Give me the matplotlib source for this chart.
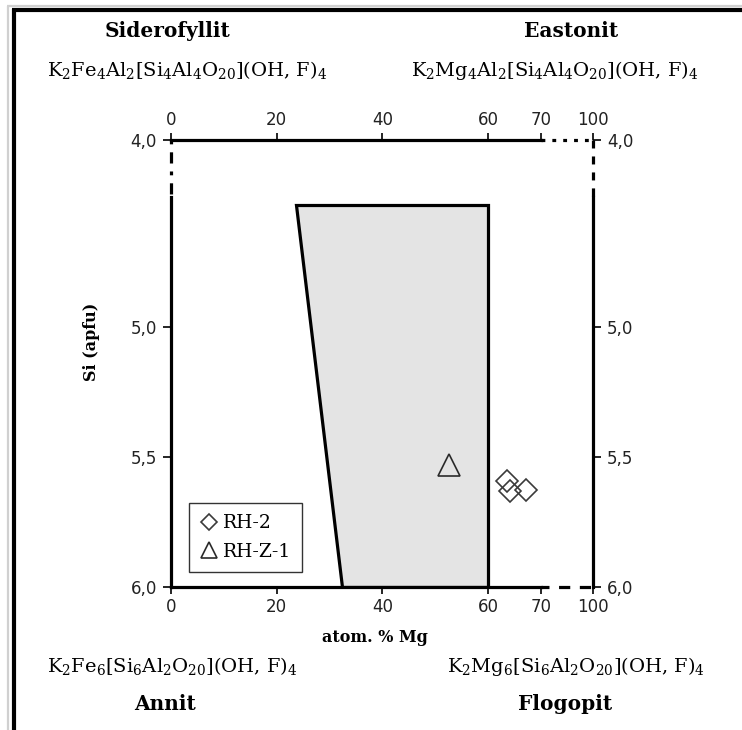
import numpy as np
import matplotlib
matplotlib.use("Agg")
import matplotlib.pyplot as plt
from matplotlib.lines import Line2D

# ---------------- data ----------------
x_ticks = [0, 20, 40, 60, 70, 100]
x_tick_labels = ["0", "20", "40", "60", "70", "100"]
y_ticks = [4.0, 5.0, 5.5, 6.0]
y_tick_labels = ["4,0", "5,0", "5,5", "6,0"]

# broken-axis scale: value -> relative length
x_scale_vals = [0, 70, 100]
x_scale_len = [0, 370, 422]
y_scale_vals = [4.0, 4.5, 6.0]
y_scale_len = [0, 57, 447]

# biotite field (atom % Mg, Si apfu)
field_mg = [23.6, 60.0, 60.0, 32.3]
field_si = [4.53, 4.53, 6.0, 6.0]

rh2_mg = [63.6, 64.1, 67.2]
rh2_si = [5.593, 5.632, 5.628]
rhz1_mg = [52.6]
rhz1_si = [5.53]

series_labels = ["RH-2", "RH-Z-1"]

# ---------------- helpers ----------------
def piecewise(vals, pos):
    vals = np.asarray(vals, float)
    pos = np.asarray(pos, float)
    def f(v):
        v = np.asarray(v, float)
        out = np.interp(v, vals, pos)
        lo_s = (pos[1] - pos[0]) / (vals[1] - vals[0])
        hi_s = (pos[-1] - pos[-2]) / (vals[-1] - vals[-2])
        out = np.where(v < vals[0], pos[0] + (v - vals[0]) * lo_s, out)
        out = np.where(v > vals[-1], pos[-1] + (v - vals[-1]) * hi_s, out)
        return out
    return f

W, H = 742, 730
fig = plt.figure(figsize=(W / 100, H / 100), dpi=100)
fig.patch.set_facecolor("white")

def fx(px):
    return px / W

def fy(py):
    return 1 - py / H

ax = fig.add_axes([fx(171), fy(587), fx(593) - fx(171), fy(140) - fy(587)])
ax.set_xscale("function", functions=(piecewise(x_scale_vals, x_scale_len),
                                     piecewise(x_scale_len, x_scale_vals)))
ax.set_yscale("function", functions=(piecewise(y_scale_vals, y_scale_len),
                                     piecewise(y_scale_len, y_scale_vals)))
ax.set_xlim(x_scale_vals[0], x_scale_vals[-1])
ax.set_ylim(y_scale_vals[-1], y_scale_vals[0])
ax.set_facecolor("none")

LW = 2.3
# field polygon
ax.fill(field_mg, field_si, facecolor="#e4e4e4", edgecolor="black",
        linewidth=LW, joinstyle="miter", zorder=2)

# data
ax.plot(rh2_mg, rh2_si, linestyle="none", marker="D", markersize=11,
        markerfacecolor="none", markeredgecolor="#3a3a3a", markeredgewidth=1.2,
        label=series_labels[0], zorder=4)
ax.plot(rhz1_mg, rhz1_si, linestyle="none", marker="^", markersize=16,
        markerfacecolor="none", markeredgecolor="#2a2a2a", markeredgewidth=1.2,
        label=series_labels[1], zorder=4)

# spines with breaks
xb = x_scale_vals[1]
yb = y_scale_vals[1]
for s in ax.spines.values():
    s.set_linewidth(LW)
ax.spines["top"].set_bounds(x_scale_vals[0], xb)
ax.spines["bottom"].set_bounds(x_scale_vals[0], xb)
ax.spines["left"].set_bounds(yb, y_scale_vals[-1])
ax.spines["right"].set_bounds(yb, y_scale_vals[-1])

ytop, ybot = y_scale_vals[0], y_scale_vals[-1]
xl, xr = x_scale_vals[0], x_scale_vals[-1]
ax.plot([xb, xr], [ytop, ytop], color="black", lw=LW, ls=(0, (1.2, 2.2)), clip_on=False)
ax.plot([xb, xr], [ybot, ybot], color="black", lw=LW, ls=(1, (3.5, 3.0)), clip_on=False)
ax.plot([xl, xl], [ytop, yb], color="black", lw=LW, ls=(0, (1.2, 2.5, 3.5, 2.5)), clip_on=False)
ax.plot([xr, xr], [ytop, yb], color="black", lw=LW, ls=(0, (2.5, 2.5)), clip_on=False)

# ticks
tick_font = dict(family="DejaVu Sans", size=12)
ax.set_xticks(x_ticks)
ax.set_xticklabels(x_tick_labels, fontdict=tick_font)
ax.set_yticks(y_ticks)
ax.set_yticklabels(y_tick_labels, fontdict=tick_font)
ax.minorticks_off()
ax.tick_params(axis="x", top=True, bottom=True, labeltop=True, labelbottom=True,
               direction="out", length=5, width=1.2, pad=3, colors="black")
ax.tick_params(axis="y", left=True, right=True, labelleft=True, labelright=True,
               direction="out", length=6, width=1.2, pad=4, colors="black")
for lab in ax.get_xticklabels() + ax.get_yticklabels():
    lab.set_color("#222222")

# legend
leg = ax.legend(loc="upper left", bbox_to_anchor=(fx(189), fy(503)),
                bbox_transform=fig.transFigure, borderaxespad=0,
                prop=dict(family="DejaVu Serif", size=13.5), markerscale=0.7,
                frameon=True, fancybox=False, edgecolor="black",
                handlelength=0.9, handletextpad=0.3, borderpad=0.6,
                labelspacing=0.55)
leg.get_frame().set_linewidth(1.0)

# texts
serif = "DejaVu Serif"
plt.rcParams["mathtext.fontset"] = "dejavuserif"
fig.text(fx(91), fy(342), "Si (apfu)", rotation=90, ha="center", va="center",
         family=serif, weight="bold", size=11.5)
fig.text(fx(375), fy(637), "atom. % Mg", ha="center", va="center",
         family=serif, weight="bold", size=11.5)

tsz = 14.5
fig.text(fx(167), fy(31), "Siderofyllit", ha="center", va="center",
         family=serif, weight="bold", size=tsz)
fig.text(fx(571), fy(31), "Eastonit", ha="center", va="center",
         family=serif, weight="bold", size=tsz)
fig.text(fx(165), fy(704), "Annit", ha="center", va="center",
         family=serif, weight="bold", size=tsz)
fig.text(fx(565), fy(704), "Flogopit", ha="center", va="center",
         family=serif, weight="bold", size=tsz)

f_sid = r"K$_2$Fe$_4$Al$_2$[Si$_4$Al$_4$O$_{20}$](OH, F)$_4$"
f_eas = r"K$_2$Mg$_4$Al$_2$[Si$_4$Al$_4$O$_{20}$](OH, F)$_4$"
f_ann = r"K$_2$Fe$_6$[Si$_6$Al$_2$O$_{20}$](OH, F)$_4$"
f_flo = r"K$_2$Mg$_6$[Si$_6$Al$_2$O$_{20}$](OH, F)$_4$"
fsz = 14
fig.text(fx(47), fy(70), f_sid, ha="left", va="center", family=serif, size=fsz)
fig.text(fx(411), fy(70), f_eas, ha="left", va="center", family=serif, size=fsz)
fig.text(fx(47), fy(666), f_ann, ha="left", va="center", family=serif, size=fsz)
fig.text(fx(447), fy(666), f_flo, ha="left", va="center", family=serif, size=fsz)

# window frame (top and left border)
def fline(x0, y0, x1, y1, color, lw):
    fig.add_artist(Line2D([fx(x0), fx(x1)], [fy(y0), fy(y1)], color=color,
                          lw=lw, transform=fig.transFigure, solid_capstyle="butt"))

fline(7, 6, W, 6, "#d0d0d0", 1.6)
fline(8, 6, 8, H, "#d0d0d0", 1.6)
fline(12, 10, W, 10, "black", 3.0)
fline(14, 8.5, 14, H, "black", 3.0)

fig.savefig("out.png", dpi=100)
